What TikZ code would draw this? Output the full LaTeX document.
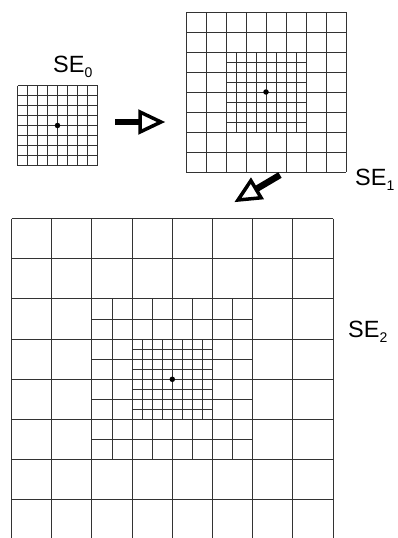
\documentclass[tikz,border=0pt]{standalone}
\usepackage{fontspec}
\setmainfont{Liberation Sans}
\usetikzlibrary{calc}
\tikzset{
  gl/.style={line width=0.9pt, draw=black!80},
  lbl/.style={inner sep=0pt, anchor=base west, font=\fontsize{23.5}{24}\selectfont},
  dotc/.style={fill=black, circle, inner sep=0pt, minimum size=5.5pt},
  shaft/.style={line width=6.5pt, draw=black},
  head/.style={line width=3.5pt, draw=black, fill=white, line join=miter}
}
\newcommand\mysub[1]{\raisebox{-5pt}{\fontsize{14}{14}\selectfont #1}}
\newcommand\sqgrid[4]{\foreach \i in {0,...,#3}{\draw[gl] ({#1+\i*#4},{#2}) -- ++(0,{#3*#4}); \draw[gl] ({#1},{#2+\i*#4}) -- ++({#3*#4},0);}}
\begin{document}
\begin{tikzpicture}[x=1pt,y=-1pt]
\useasboundingbox (0,0) rectangle (398,538);
\fill[white] (0,0) rectangle (398,538);
\clip (0,0) rectangle (398,538);
% SE0
\sqgrid{17.5}{85.5}{8}{10}
\node[dotc] (c0) at (57.5,125.5) {};
\node[lbl] (se0) at (53,72) {SE\mysub{0}};
% SE1
\sqgrid{186}{12}{8}{20}
\sqgrid{226}{52}{8}{10}
\node[dotc] (c1) at (266,92) {};
\node[lbl] (se1) at (355,185) {SE\mysub{1}};
% SE2
\sqgrid{11.5}{218.5}{8}{40.2}
\sqgrid{91.9}{298.9}{8}{20.1}
\sqgrid{132.1}{339.1}{8}{10.05}
\node[dotc] (c2) at (172.3,379.3) {};
\node[lbl] (se2) at (348,337) {SE\mysub{2}};
% arrow 1
\coordinate (a1s) at (115,122);
\coordinate (a1b) at (140,122);
\coordinate (a1t) at (161,122);
\coordinate (a1u) at (140,112);
\coordinate (a1d) at (140,132);
\draw[shaft] (a1s) -- (a1b);
\draw[head] (a1t) -- (a1u) -- (a1d) -- cycle;
% arrow 2
\coordinate (a2s) at (280,175);
\coordinate (a2b) at (256,189.2);
\coordinate (a2t) at (238,200);
\coordinate (a2u) at (250.9,180.6);
\coordinate (a2d) at (261.1,197.8);
\draw[shaft] (a2s) -- (a2b);
\draw[head] (a2t) -- (a2u) -- (a2d) -- cycle;
\end{tikzpicture}
\end{document}
